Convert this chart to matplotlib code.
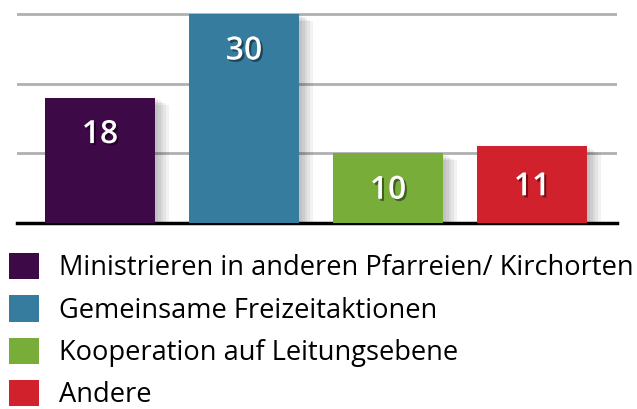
import matplotlib
matplotlib.use("Agg")
from matplotlib import pyplot as plt
from matplotlib import patheffects as pe
from matplotlib.patches import Patch

categories = [
    "Ministrieren in anderen Pfarreien/ Kirchorten",
    "Gemeinsame Freizeitaktionen",
    "Kooperation auf Leitungsebene",
    "Andere",
]
values = [18, 30, 10, 11]
colors = ["#3d0a47", "#357c9f", "#78ad3a", "#d0212c"]

plt.rcParams["font.family"] = ["Open Sans", "DejaVu Sans"]

fig = plt.figure(figsize=(6.37, 4.09), dpi=100)
W, H = 637, 409
ax = fig.add_axes([17 / W, 1 - 223 / H, 600 / W, 211 / H])

x = list(range(len(values)))
bars = ax.bar(x, values, width=0.764, color=colors, zorder=3)
# soft shadow made of a few faint layers
soft = [pe.SimplePatchShadow(offset=(d, -d * 0.5), alpha=0.05, shadow_rgbFace="black")
        for d in (2, 4, 6, 8, 10)]
for b in bars:
    b.set_path_effects(soft + [pe.Normal()])

for xi, v in zip(x, values):
    ypos = v - 5.3 if v > 15 else v / 2 - 0.3
    ax.text(xi, ypos, str(v), ha="center", va="center", color="white",
            fontsize=23, fontweight="semibold", zorder=4,
            path_effects=[pe.withSimplePatchShadow(offset=(1.5, -1.5), alpha=0.45, shadow_rgbFace="black")])

ax.set_xlim(-0.576, 3.59)
ax.set_ylim(0, 30.3)
ax.set_yticks([10, 20, 30])
ax.yaxis.grid(True, color="#b0b0b0", linewidth=2, zorder=0)
ax.tick_params(left=False, bottom=False, labelleft=False, labelbottom=False)
for s in ["top", "right", "left"]:
    ax.spines[s].set_visible(False)
ax.spines["bottom"].set_linewidth(2.5)
ax.spines["bottom"].set_color("black")

handles = [Patch(facecolor=c) for c in colors]
fig.legend(handles, categories, loc="upper left", bbox_to_anchor=(9 / W, 1 - 253 / H),
           frameon=False, fontsize=19.6, handlelength=1.1, handleheight=1.1,
           handletextpad=0.75, labelspacing=0.48, borderpad=0, borderaxespad=0)

fig.savefig("out.png", dpi=100)
